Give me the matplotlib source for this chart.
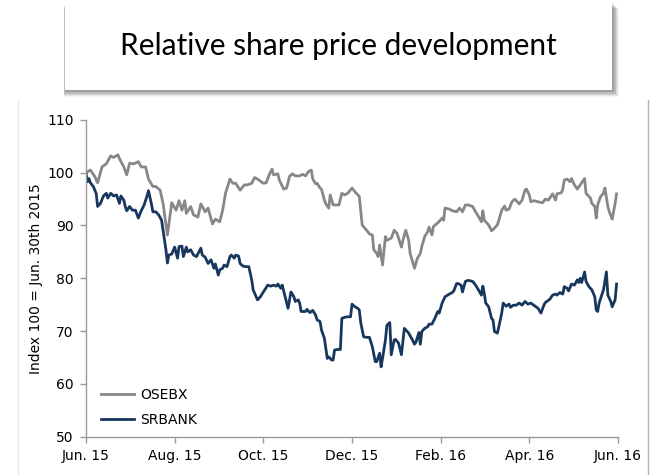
import matplotlib
matplotlib.use('Agg')
import matplotlib.pyplot as plt
from matplotlib.patches import Rectangle
from matplotlib.lines import Line2D
import pandas as pd

# days since 30 Jun 2015, index values
osebx_days = [0, 3, 6, 8, 11, 14, 17, 19, 22, 23, 26, 28, 30, 33, 36, 38, 41, 43, 46, 48,
              51, 53, 56, 58, 59, 62, 64, 66, 68, 69, 72, 74, 77, 79, 82, 84, 87, 89, 92, 94,
              96, 99, 101, 103, 106, 109, 111, 114, 116, 118, 122, 124, 126, 128, 129, 132, 133, 136, 138, 140,
              142, 144, 147, 149, 151, 153, 155, 156, 158, 159, 161, 162, 164, 165, 167, 168, 170, 172, 174, 176,
              178, 180, 183, 185, 188, 190, 193, 195, 197, 198, 200, 201, 202, 204, 206, 207, 210, 212, 214, 217,
              218, 220, 222, 223, 226, 228, 230, 231, 233, 235, 236, 238, 239, 242, 245, 246, 247, 250, 252, 255,
              257, 259, 261, 263, 266, 268, 270, 272, 273, 274, 276, 277, 279, 281, 283, 284, 286, 288, 289, 291,
              293, 295, 298, 300, 302, 303, 305, 306, 308, 311, 314, 316, 318, 320, 321, 323, 324, 327, 328, 329,
              331, 333, 334, 336, 338, 340, 343, 344, 347, 348, 350, 351, 352, 354, 356, 357, 359, 360, 362, 364,
              365]
osebx = [100.0, 100.5, 99.3, 98.1, 101.1, 101.7, 103.2, 102.9, 103.4, 102.7, 101.1, 99.6, 101.8, 101.7, 102.1, 101.1, 101.1, 98.8, 97.4, 97.4,
         96.7, 94.2, 88.2, 92.3, 94.3, 92.9, 94.7, 92.9, 94.7, 92.3, 93.6, 92.0, 91.6, 94.1, 92.6, 93.3, 90.3, 91.2, 90.7, 92.9,
         96.1, 98.8, 98.0, 98.0, 96.7, 97.7, 97.7, 98.0, 99.1, 98.8, 98.0, 98.1, 99.6, 100.7, 99.6, 99.8, 98.6, 96.9, 97.1, 99.3,
         99.8, 99.4, 99.4, 99.7, 99.4, 100.2, 100.5, 98.8, 97.9, 98.0, 97.1, 96.9, 94.8, 94.1, 93.3, 95.8, 93.9, 93.9, 93.9, 96.1,
         95.8, 96.1, 97.1, 96.4, 95.5, 90.1, 89.1, 88.4, 88.2, 85.4, 84.7, 84.1, 86.3, 82.5, 87.9, 87.2, 87.6, 89.1, 88.5, 85.9,
         87.2, 89.1, 87.2, 84.7, 81.9, 83.8, 84.7, 86.0, 87.9, 88.8, 89.7, 88.2, 89.8, 90.5, 91.4, 91.0, 93.3, 93.1, 92.8, 92.6,
         93.3, 92.6, 93.9, 93.9, 93.6, 92.6, 91.7, 90.7, 92.8, 91.0, 90.4, 90.1, 89.0, 89.5, 90.1, 91.0, 92.9, 93.7, 92.9, 93.1,
         94.5, 95.0, 94.1, 94.8, 96.7, 96.9, 95.8, 94.5, 94.7, 94.5, 94.3, 95.0, 94.8, 95.6, 96.0, 94.8, 96.0, 96.2, 96.9, 98.6,
         98.8, 98.3, 98.9, 97.7, 96.9, 97.7, 98.9, 96.1, 95.2, 94.2, 93.6, 91.4, 93.9, 95.5, 96.1, 97.1, 93.6, 92.6, 91.2, 94.2,
         96.0]

srbank_days = [0, 1, 2, 3, 5, 7, 8, 10, 12, 14, 15, 17, 19, 21, 23, 24, 26, 27, 28, 30,
               32, 34, 36, 38, 40, 42, 43, 45, 46, 48, 50, 52, 53, 55, 56, 57, 59, 61, 63, 64,
               66, 67, 69, 70, 72, 74, 76, 79, 80, 82, 84, 86, 88, 89, 91, 92, 94, 95, 97, 99,
               100, 102, 103, 105, 106, 108, 110, 112, 114, 115, 118, 120, 122, 123, 125, 127, 129, 131, 132, 134,
               135, 137, 139, 141, 143, 144, 146, 147, 148, 151, 152, 154, 156, 158, 159, 161, 162, 164, 165, 166,
               167, 169, 170, 171, 173, 175, 176, 178, 180, 182, 183, 185, 187, 188, 189, 191, 193, 195, 197, 199,
               200, 202, 203, 204, 206, 207, 209, 210, 212, 213, 215, 217, 219, 220, 222, 224, 226, 227, 229, 230,
               231, 233, 235, 236, 238, 240, 242, 243, 245, 247, 250, 252, 253, 255, 256, 258, 259, 261, 263, 266,
               268, 270, 272, 273, 274, 275, 277, 279, 280, 281, 283, 284, 286, 287, 289, 291, 292, 294, 296, 298,
               300, 302, 304, 306, 308, 311, 313, 315, 316, 319, 321, 323, 324, 326, 328, 329, 331, 332, 334, 336,
               338, 339, 340, 341, 343, 344, 346, 348, 350, 351, 352, 353, 355, 356, 358, 359, 361, 362, 364, 365]
srbank = [100.0, 98.3, 98.9, 98.1, 97.4, 96.1, 93.6, 94.2, 95.6, 96.1, 95.2, 96.1, 95.6, 95.8, 94.2, 95.6, 94.8, 93.6, 92.8, 93.6,
          92.9, 92.9, 91.4, 92.8, 93.9, 95.6, 96.6, 94.1, 92.6, 92.6, 92.0, 91.0, 89.1, 85.4, 82.9, 84.4, 84.6, 85.9, 83.8, 86.0,
          86.1, 84.1, 85.9, 85.0, 85.4, 84.4, 84.1, 85.7, 84.4, 84.0, 82.8, 83.5, 81.9, 82.7, 80.6, 81.6, 81.9, 82.5, 82.2, 84.1,
          84.4, 83.8, 84.4, 84.2, 82.8, 82.3, 82.2, 82.2, 79.7, 77.8, 75.9, 76.5, 77.4, 77.8, 78.7, 78.5, 78.7, 78.5, 78.9, 78.1,
          78.7, 76.5, 74.3, 77.4, 76.5, 75.6, 75.9, 75.3, 73.7, 73.7, 74.1, 73.5, 73.9, 73.0, 72.1, 71.8, 70.2, 68.6, 66.7, 64.8,
          65.1, 64.5, 64.5, 66.4, 66.5, 66.5, 72.4, 72.6, 72.7, 72.7, 75.1, 74.6, 74.3, 74.0, 71.6, 68.9, 68.8, 68.8, 67.0, 64.2,
          64.2, 65.8, 63.2, 64.8, 68.3, 71.1, 71.6, 65.5, 68.3, 68.4, 67.7, 65.5, 70.5, 70.2, 69.6, 68.6, 67.5, 67.9, 69.7, 67.5,
          69.9, 70.5, 70.8, 71.3, 71.3, 72.4, 73.7, 73.4, 75.3, 76.5, 77.0, 77.3, 77.6, 79.0, 79.0, 78.7, 77.4, 79.4, 79.6, 79.4,
          78.7, 77.8, 76.8, 78.5, 77.1, 75.3, 74.6, 72.4, 72.1, 69.9, 69.6, 70.8, 73.4, 75.3, 74.7, 75.1, 74.5, 74.9, 74.9, 75.3,
          74.9, 75.6, 75.1, 75.3, 74.9, 74.3, 73.4, 74.9, 75.4, 76.0, 76.8, 77.0, 76.8, 77.3, 77.0, 78.4, 78.1, 77.6, 78.9, 78.7,
          79.7, 79.2, 80.0, 79.2, 81.2, 79.4, 78.4, 77.8, 76.5, 74.0, 73.7, 75.3, 77.0, 77.8, 81.2, 76.8, 75.6, 74.6, 75.9, 78.9]

tick_dates = ['2015-06-30', '2015-08-30', '2015-10-30', '2015-12-30', '2016-02-29', '2016-04-30', '2016-06-30']
tick_labels = ['Jun. 15', 'Aug. 15', 'Oct. 15', 'Dec. 15', 'Feb. 16', 'Apr. 16', 'Jun. 16']
y_ticks = [50, 60, 70, 80, 90, 100, 110]

start = pd.Timestamp('2015-06-30')
osebx_dates = start + pd.to_timedelta(osebx_days, unit='D')
srbank_dates = start + pd.to_timedelta(srbank_days, unit='D')

grey = '#878787'
navy = '#17375E'
axis_col = '#9a9a9a'

plt.rcParams['font.family'] = ['DejaVu Sans']

fig = plt.figure(figsize=(6.5, 4.75), dpi=100)
ax = fig.add_axes([0.1323, 0.081, 0.8185, 0.6664])

ax.plot(osebx_dates, osebx, color=grey, linewidth=2.0, label='OSEBX')
ax.plot(srbank_dates, srbank, color=navy, linewidth=2.0, label='SRBANK')

ax.set_xlim(pd.Timestamp(tick_dates[0]), pd.Timestamp(tick_dates[-1]))
ax.set_ylim(50, 110)
ax.set_yticks(y_ticks)
ax.set_xticks(pd.to_datetime(tick_dates))
ax.set_xticklabels(tick_labels)

for side in ['top', 'right']:
    ax.spines[side].set_visible(False)
for side in ['left', 'bottom']:
    ax.spines[side].set_color(axis_col)
    ax.spines[side].set_linewidth(1.0)
ax.tick_params(axis='both', direction='out', length=4, width=1.0, color=axis_col,
               labelsize=10, labelcolor='black', pad=5)

ax.set_ylabel('Index 100 = Jun. 30th 2015', fontsize=10, labelpad=3)

ax.legend(loc='lower left', bbox_to_anchor=(0.005, -0.008), frameon=False, fontsize=10,
          handlelength=2.4, handletextpad=0.4, labelspacing=0.75)

# title box with soft shadow (mostly below and to the right)
bx, by, bw, bh = 0.10, 0.8105, 0.8415, 0.185
for i, a in enumerate([0.04, 0.06, 0.08, 0.11, 0.15]):
    off = (6 - i) / 650
    fig.add_artist(Rectangle((bx - off * 0.25, by - off * 1.6), bw + off * 1.5, bh,
                             transform=fig.transFigure, facecolor='black',
                             edgecolor='none', alpha=a))
fig.add_artist(Rectangle((bx, by), bw, bh, transform=fig.transFigure,
                         facecolor='white', edgecolor='none'))
fig.text(0.521, 0.903, 'Relative share price development', ha='center', va='center',
         fontsize=21.5, family='Lato')

# faint slide frame lines
fig.add_artist(Line2D([18 / 650, 18 / 650], [0, 1 - 100 / 475], transform=fig.transFigure,
                      color='#e6e6e6', linewidth=1))
fig.add_artist(Line2D([648 / 650, 648 / 650], [0, 1 - 100 / 475], transform=fig.transFigure,
                      color='#b5b5b5', linewidth=1))

fig.savefig('out.png', dpi=100)
